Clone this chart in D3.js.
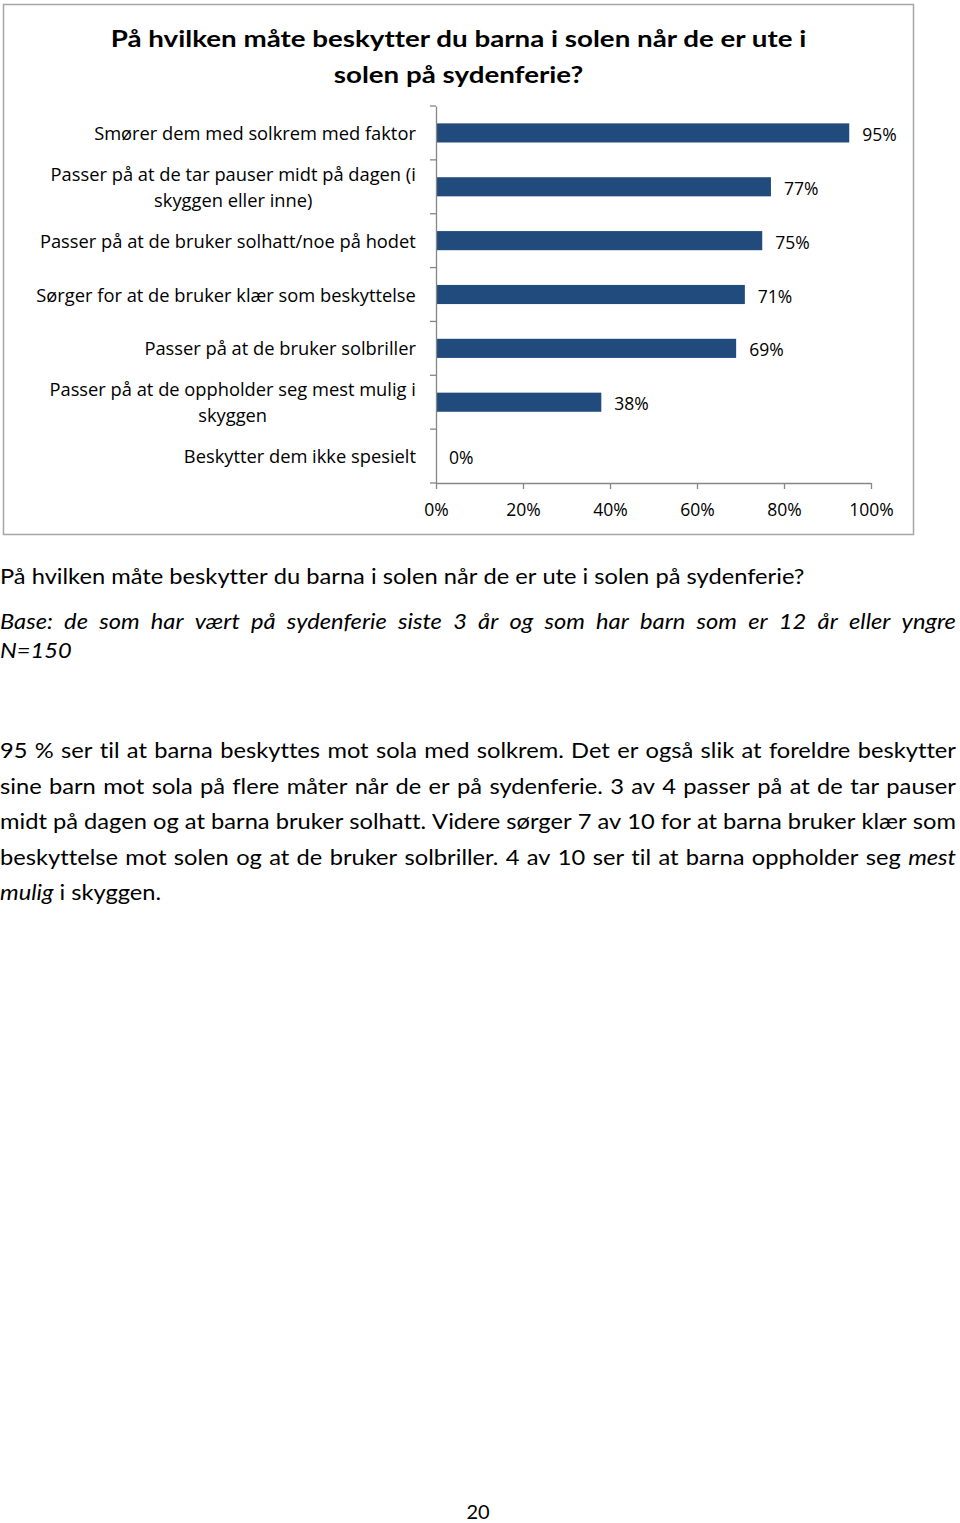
<!DOCTYPE html>
<html><head><meta charset="utf-8">
<script src="https://cdn.jsdelivr.net/npm/d3@7"></script>
<style>body{margin:0;background:#fff}svg{display:block}text{font-variant-ligatures:none;font-feature-settings:"liga" 0,"clig" 0}</style>
</head><body><svg id="c" width="960" height="1523"></svg>
<script>
// ---- data ----
const categories = [
  "Smører dem med solkrem med faktor",
  "Passer på at de tar pauser midt på dagen (i\nskyggen eller inne)",
  "Passer på at de bruker solhatt/noe på hodet",
  "Sørger for at de bruker klær som beskyttelse",
  "Passer på at de bruker solbriller",
  "Passer på at de oppholder seg mest mulig i\nskyggen",
  "Beskytter dem ikke spesielt"
];
const values = [95, 77, 75, 71, 69, 38, 0];
const xTicks = [0, 20, 40, 60, 80, 100];
const titleLines = ["På hvilken måte beskytter du barna i solen når de er ute i", "solen på sydenferie?"];
const captionLine = "På hvilken måte beskytter du barna i solen når de er ute i solen på sydenferie?";
const baseLine = "Base: de som har vært på sydenferie siste 3 år og som har barn som er 12 år eller yngre";
const nLine = "N=150";
const paragraphLines = [
  [["95 % ser til at barna beskyttes mot sola med solkrem. Det er også slik at foreldre beskytter", false]],
  [["sine barn mot sola på flere måter når de er på sydenferie. 3 av 4 passer på at de tar pauser", false]],
  [["midt på dagen og at barna bruker solhatt. Videre sørger 7 av 10 for at barna bruker klær som", false]],
  [["beskyttelse mot solen og at de bruker solbriller. 4 av 10 ser til at barna oppholder seg", false], ["mest", true]],
  [["mulig", true], ["i skyggen.", false]]
];
const pageNumber = "20";

// ---- setup ----
const svg = d3.select("#c");
svg.append("rect").attr("width", 960).attr("height", 1523).attr("fill", "#fff");
const BODY = "Lato, 'Open Sans', sans-serif";
const LBL = "'Open Sans', sans-serif";

function measure(str, font, size, weight, style) {
  const t = svg.append("text").attr("font-family", font).attr("font-size", size)
    .attr("font-weight", weight || "normal").attr("font-style", style || "normal").text(str);
  const w = t.node().getComputedTextLength();
  t.remove();
  return w;
}

// chart frame
svg.append("rect").attr("x", 3.5).attr("y", 4.5).attr("width", 910).attr("height", 530)
  .attr("fill", "none").attr("stroke", "#a6a6a6").attr("stroke-width", 1.5);

// title
const titleSize = 23;
const kT = 696 / measure(titleLines[0], BODY, titleSize, "bold");
const titleG = svg.append("g").attr("transform", `translate(458.5,0) scale(${kT},1)`);
titleLines.forEach((s, i) => {
  titleG.append("text").attr("x", 0).attr("y", 47 + i * 36).attr("text-anchor", "middle")
    .attr("font-family", BODY).attr("font-size", titleSize).attr("font-weight", "bold")
    .attr("fill", "#000").text(s);
});

// scales
const x = d3.scaleLinear().domain([0, 100]).range([436, 871]);
const y = d3.scaleBand().domain(categories).range([106, 483]).paddingInner(0.645).paddingOuter(0.3225);
const yBand = d3.scaleBand().domain(categories).range([106, 483]);

const axisColor = "#868686";
// bars
svg.append("g").selectAll("rect").data(values).join("rect")
  .attr("x", x(0)).attr("y", (d, i) => y(categories[i]))
  .attr("width", d => x(d) - x(0)).attr("height", y.bandwidth())
  .attr("fill", "#214a7d");

// y axis
const yAxis = d3.axisLeft(yBand).tickSize(0).tickFormat("");
const gy = svg.append("g").attr("transform", `translate(${x(0)},0)`).call(yAxis);
gy.select(".domain").attr("stroke", axisColor).attr("stroke-width", 1.3);
// boundary ticks
const bounds = categories.map(c => yBand(c)).concat([yBand.range()[1]]);
svg.append("g").selectAll("line").data(bounds).join("line")
  .attr("x1", x(0) - 6).attr("x2", x(0)).attr("y1", d => d).attr("y2", d => d)
  .attr("stroke", axisColor).attr("stroke-width", 1.3);

// x axis
const xAxis = d3.axisBottom(x).tickValues(xTicks).tickSize(6).tickFormat(d => d + "%");
const gx = svg.append("g").attr("transform", `translate(0,483)`).call(xAxis);
gx.select(".domain").attr("stroke", axisColor).attr("stroke-width", 1.3).attr("d", `M${x(0)},0.5H${x(100)}`);
gx.selectAll(".tick line").attr("stroke", axisColor).attr("stroke-width", 1.3);
gx.selectAll(".tick text").attr("font-family", LBL).attr("font-size", 17.5).attr("fill", "#000")
  .attr("y", 0).attr("dy", "0").attr("transform", "translate(0,33)");

// category labels
const lblSize = 18;
const kL = 322 / measure(categories[0], LBL, lblSize);
categories.forEach((c, i) => {
  const lines = c.split("\n");
  const widths = lines.map(l => measure(l, LBL, lblSize) * kL);
  const maxW = d3.max(widths);
  const cx = 416 - maxW / 2;
  const cy = yBand(c) + yBand.bandwidth() / 2;
  lines.forEach((l, j) => {
    const ly = cy + (j - (lines.length - 1) / 2) * 26 + 7;
    svg.append("text").attr("transform", `translate(${cx},${ly}) scale(${kL},1)`)
      .attr("text-anchor", "middle").attr("font-family", LBL).attr("font-size", lblSize)
      .attr("fill", "#000").text(l);
  });
});

// value labels
svg.append("g").selectAll("text").data(values).join("text")
  .attr("x", d => x(d) + 13).attr("y", (d, i) => yBand(categories[i]) + yBand.bandwidth() / 2 + 8)
  .attr("font-family", LBL).attr("font-size", 17.5).attr("fill", "#000")
  .text(d => d + "%");

// body text
const bodySize = 22;
const kB = 803 / measure(captionLine, BODY, bodySize);
function drawLine(segments, baselineY, justifyWidth) {
  const words = [];
  segments.forEach(([s, it]) => s.split(" ").filter(w => w.length).forEach(w => words.push([w, it])));
  const g = svg.append("g").attr("transform", `translate(0,${baselineY}) scale(${kB},1)`);
  const ws = words.map(([w, it]) => measure(w, BODY, bodySize, "normal", it ? "italic" : "normal"));
  const space = measure("a a", BODY, bodySize) - measure("aa", BODY, bodySize);
  let gap = space;
  if (justifyWidth && words.length > 1) gap = (justifyWidth / kB - d3.sum(ws)) / (words.length - 1);
  let cx = 0;
  words.forEach(([w, it], i) => {
    g.append("text").attr("x", cx).attr("y", 0).attr("font-family", BODY).attr("font-size", bodySize)
      .attr("font-style", it ? "italic" : "normal").attr("fill", "#000").text(w);
    cx += ws[i] + gap;
  });
}
drawLine([[captionLine, false]], 584, null);
drawLine([[baseLine, true]], 629, 956);
drawLine([[nLine, true]], 658, null);
const pBase = [758, 793.5, 829, 864.5, 900];
paragraphLines.forEach((segs, i) => drawLine(segs, pBase[i], i < paragraphLines.length - 1 ? 956 : null));

svg.append("text").attr("x", 478).attr("y", 1519).attr("text-anchor", "middle")
  .attr("font-family", BODY).attr("font-size", 20).attr("fill", "#000").text(pageNumber);
</script></body></html>
